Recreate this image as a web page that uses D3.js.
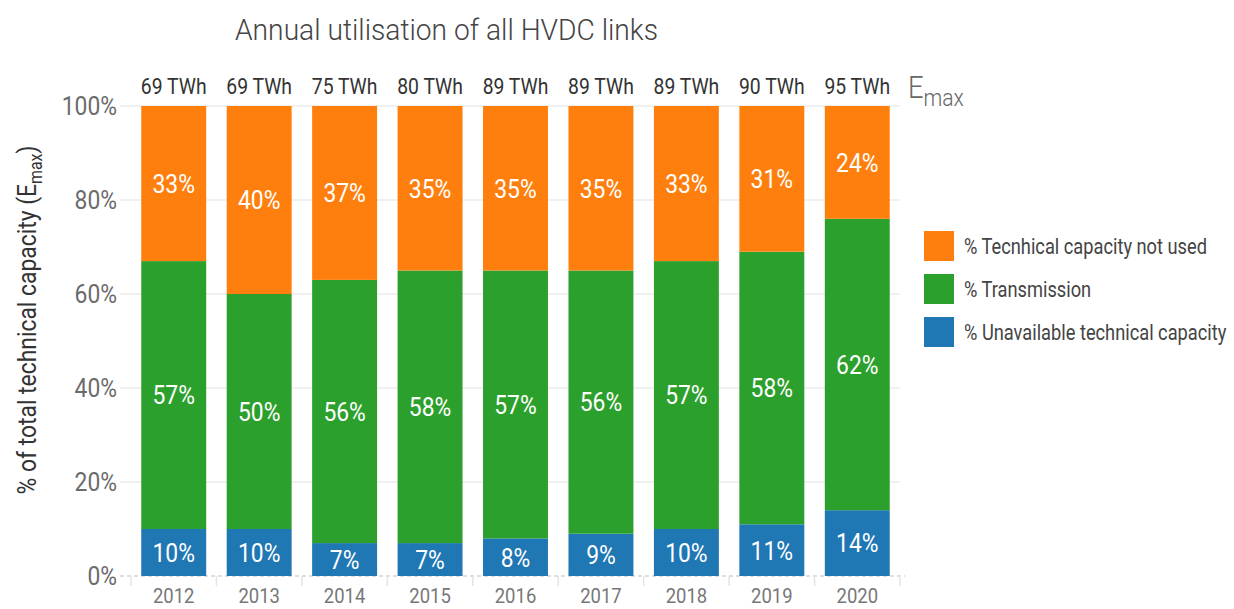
<!DOCTYPE html>
<html>
<head>
<meta charset="utf-8">
<script src="https://cdn.jsdelivr.net/npm/d3@7"></script>
<style>
  body { margin: 0; background: #fff; }
  text { font-family: "Roboto", "Liberation Sans", sans-serif; }
</style>
</head>
<body>
<div id="chart"></div>
<script>
// data
var years = ["2012", "2013", "2014", "2015", "2016", "2017", "2018", "2019", "2020"];
var unavailable = [10, 10, 7, 7, 8, 9, 10, 11, 14];
var transmission = [57, 50, 56, 58, 57, 56, 57, 58, 62];
var notUsed = [33, 40, 37, 35, 35, 35, 33, 31, 24];
var emaxTWh = [69, 69, 75, 80, 89, 89, 89, 90, 95];
var yTicks = [0, 20, 40, 60, 80, 100];

var seriesNames = ["% Unavailable technical capacity", "% Transmission", "% Tecnhical capacity not used"];
var seriesColors = ["#1f77b4", "#2ca02c", "#ff7f0e"];

var width = 1234, height = 609;
var narrow = 0.88; // horizontal squeeze to mimic the condensed font

var svg = d3.select("#chart").append("svg")
    .attr("width", width)
    .attr("height", height);

var x = d3.scaleBand()
    .domain(years)
    .range([131, 900])
    .paddingInner(0.24)
    .paddingOuter(0.12);

var y = d3.scaleLinear()
    .domain([0, 100])
    .range([576, 106]);

// places a text at (px, py) squeezed horizontally
function place(px, py, sx) {
  return "translate(" + px + "," + py + ") scale(" + (sx || narrow) + ",1)";
}

// build stacked rows
var rows = years.map(function(yr, i) {
  return { year: yr, s0: unavailable[i], s1: transmission[i], s2: notUsed[i] };
});
var stack = d3.stack().keys(["s0", "s1", "s2"]);
var layers = stack(rows);

// gridlines
svg.append("g")
  .selectAll("line")
  .data(yTicks.filter(function(t) { return t > 0; }))
  .enter().append("line")
    .attr("x1", 120)
    .attr("x2", 900)
    .attr("y1", function(d) { return y(d); })
    .attr("y2", function(d) { return y(d); })
    .style("stroke", "#f0f0f0")
    .style("stroke-width", 2);

// baseline (dashed) and small ticks between bars
svg.append("line")
    .attr("x1", 120).attr("x2", 905)
    .attr("y1", y(0)).attr("y2", y(0))
    .style("stroke", "#d4d4d4")
    .style("stroke-width", 1.5)
    .style("stroke-dasharray", "4,3");

var sep = years.map(function(d) { return x(d) - x.step() * x.paddingInner() / 2; });
sep.push(x(years[years.length - 1]) + x.bandwidth() + x.step() * x.paddingInner() / 2);
svg.append("g")
  .selectAll("line")
  .data(sep)
  .enter().append("line")
    .attr("x1", function(d) { return d; })
    .attr("x2", function(d) { return d; })
    .attr("y1", y(0))
    .attr("y2", y(0) + 10)
    .style("stroke", "#e4e4e4")
    .style("stroke-width", 1.5);

// bars
var layer = svg.append("g")
  .selectAll("g")
  .data(layers)
  .enter().append("g")
    .style("fill", function(d, i) { return seriesColors[i]; });

layer.selectAll("rect")
  .data(function(d) { return d; })
  .enter().append("rect")
    .attr("x", function(d) { return x(d.data.year); })
    .attr("y", function(d) { return y(d[1]); })
    .attr("width", x.bandwidth())
    .attr("height", function(d) { return y(d[0]) - y(d[1]); });

// labels inside segments
layer.selectAll("text")
  .data(function(d) { return d; })
  .enter().append("text")
    .attr("transform", function(d) {
      return place(x(d.data.year) + x.bandwidth() / 2, (y(d[0]) + y(d[1])) / 2);
    })
    .attr("dy", "0.36em")
    .attr("text-anchor", "middle")
    .style("fill", "#fff")
    .style("font-size", "26px")
    .text(function(d) { return Math.round(d[1] - d[0]) + "%"; });

// y axis tick labels
svg.append("g")
  .selectAll("text")
  .data(yTicks)
  .enter().append("text")
    .attr("transform", function(d) { return place(117, y(d)); })
    .attr("dy", "0.36em")
    .attr("text-anchor", "end")
    .style("fill", "#6b6b6b")
    .style("font-size", "26px")
    .text(function(d) { return d + "%"; });

// x axis labels
svg.append("g")
  .selectAll("text")
  .data(years)
  .enter().append("text")
    .attr("transform", function(d) { return place(x(d) + x.bandwidth() / 2, 603); })
    .attr("text-anchor", "middle")
    .style("fill", "#777")
    .style("font-size", "21px")
    .text(function(d) { return d; });

// Emax totals above bars
svg.append("g")
  .selectAll("text")
  .data(years)
  .enter().append("text")
    .attr("transform", function(d) { return place(x(d) + x.bandwidth() / 2, 86); })
    .attr("dy", "0.36em")
    .attr("text-anchor", "middle")
    .style("fill", "#333")
    .style("font-size", "22px")
    .text(function(d, i) { return emaxTWh[i] + " TWh"; });

var emax = svg.append("text")
    .attr("transform", place(908, 98))
    .style("fill", "#666")
    .style("font-size", "31px")
    .style("font-weight", 300);
emax.append("tspan").text("E");
emax.append("tspan").attr("dy", 8).style("font-size", "24px").text("max");

// title
svg.append("text")
    .attr("transform", place(235, 40, 0.94))
    .style("fill", "#444")
    .style("font-size", "30px")
    .style("font-weight", 300)
    .text("Annual utilisation of all HVDC links");

// y axis title
var yt = svg.append("text")
    .attr("transform", "translate(36,320) rotate(-90) scale(" + narrow + ",1)")
    .attr("text-anchor", "middle")
    .style("fill", "#333")
    .style("font-size", "26px");
yt.append("tspan").text("% of total technical capacity (E");
yt.append("tspan").attr("dy", 6).style("font-size", "18px").text("max");
yt.append("tspan").attr("dy", -6).text(")");

// legend (top to bottom: not used, transmission, unavailable)
var legendOrder = [2, 1, 0];
var legend = svg.append("g")
  .selectAll("g")
  .data(legendOrder)
  .enter().append("g")
    .attr("transform", function(d, i) { return "translate(924," + (231 + i * 43) + ")"; });

legend.append("rect")
    .attr("width", 30)
    .attr("height", 30)
    .style("fill", function(d) { return seriesColors[d]; });

legend.append("text")
    .attr("transform", place(40, 15, 0.83))
    .attr("dy", "0.36em")
    .style("fill", "#444")
    .style("font-size", "22px")
    .text(function(d) { return seriesNames[d]; });
</script>
</body>
</html>
